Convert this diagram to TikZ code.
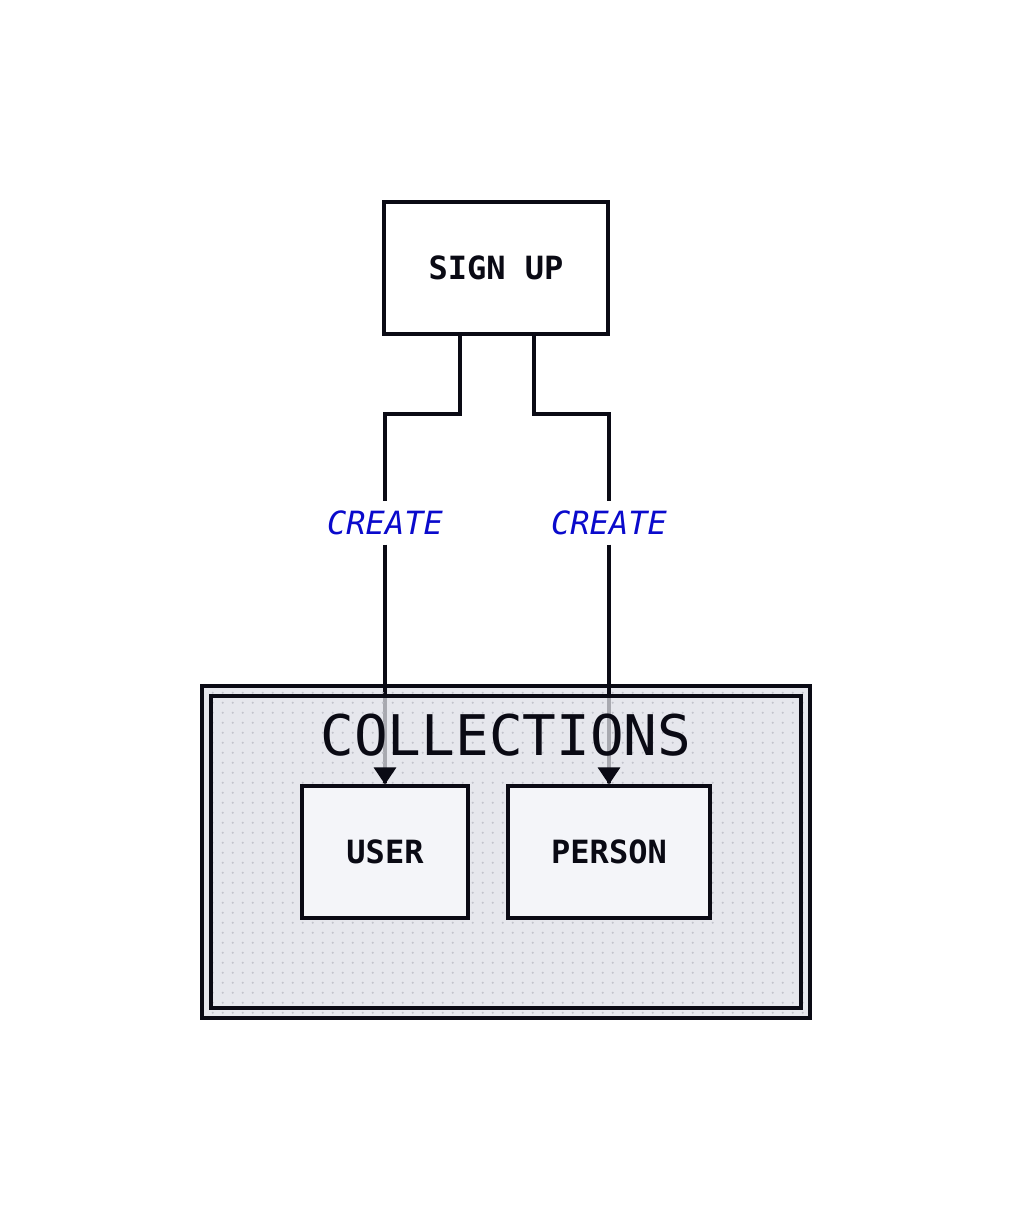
\documentclass[tikz,border=0pt]{standalone}
\usepackage{fontspec}
\newfontfamily\diagfont{DejaVu Sans Mono}
\usetikzlibrary{arrows.meta, calc}
\definecolor{ink}{HTML}{0A0A14}
\definecolor{collbg}{HTML}{E6E7ED}
\definecolor{boxbg}{HTML}{F4F5F9}
\definecolor{dotgray}{HTML}{C2C3CB}
\definecolor{verbblue}{HTML}{0A0ACC}
\pgfdeclarelayer{back}
\pgfdeclarelayer{wires}
\pgfdeclarelayer{veil}
\pgfsetlayers{back,wires,veil,main}
\tikzset{
  box/.style={draw=ink, line width=2.4pt, fill=boxbg, minimum height=99pt, text=ink,
    font=\diagfont\bfseries\fontsize{24}{28}\selectfont},
  verb/.style={fill=white, text=verbblue, minimum height=32pt, inner xsep=2pt,
    font=\diagfont\itshape\fontsize{24}{28}\selectfont},
  wire/.style={draw=ink, line width=2.4pt},
  tip/.style={-{Triangle[width=16.5pt,length=12.75pt]}, draw=ink, fill=ink, line width=2.4pt}
}
\begin{document}
\begin{tikzpicture}[x=0.75pt, y=-0.75pt]
  \useasboundingbox (0,0) rectangle (1012,1220);
  \begin{pgfonlayer}{back}
    \fill[collbg] (202,686) rectangle (810,1018);
  \end{pgfonlayer}
  \node[box, fill=white, minimum width=168pt] (signup) at (496,268) {SIGN UP};
  \node[verb] (mkuser) at (385,523) {CREATE};
  \node[verb] (mkperson) at (609,523) {CREATE};
  \node[box, minimum width=124.5pt] (user) at (385,852) {USER};
  \node[box, minimum width=151.5pt] (person) at (609,852) {PERSON};
  \node[text=ink, font=\diagfont\fontsize{42}{48}\selectfont] (colltitle) at (506,735) {COLLECTIONS};
  \coordinate (bendu) at (385,414);
  \coordinate (bendp) at (609,414);
  % connectors
  \begin{pgfonlayer}{wires}
    \draw[wire] ([xshift=-27pt]signup.south) |- (bendu) -- (mkuser);
    \draw[wire] ([xshift=28.5pt]signup.south) |- (bendp) -- (mkperson);
    \draw[wire] (mkuser) -- (user);
    \draw[wire] (mkperson) -- (person);
  \end{pgfonlayer}
  % collection frame
  \begin{pgfonlayer}{veil}
    \fill[collbg, opacity=.72] (211,696) rectangle (801,1008);
    \foreach \x in {212.7,222.7,...,802.7}
      \foreach \y in {692.7,702.7,...,1012.7}
        \fill[dotgray] (\x,\y) circle (0.85pt);
    \draw[ink, line width=2.4pt] (202,686) rectangle (810,1018);
    \draw[ink, line width=2.4pt] (211,696) rectangle (801,1008);
  \end{pgfonlayer}
  \draw[tip] ([yshift=1pt]user.north) -- (user.north);
  \draw[tip] ([yshift=1pt]person.north) -- (person.north);
\end{tikzpicture}
\end{document}
